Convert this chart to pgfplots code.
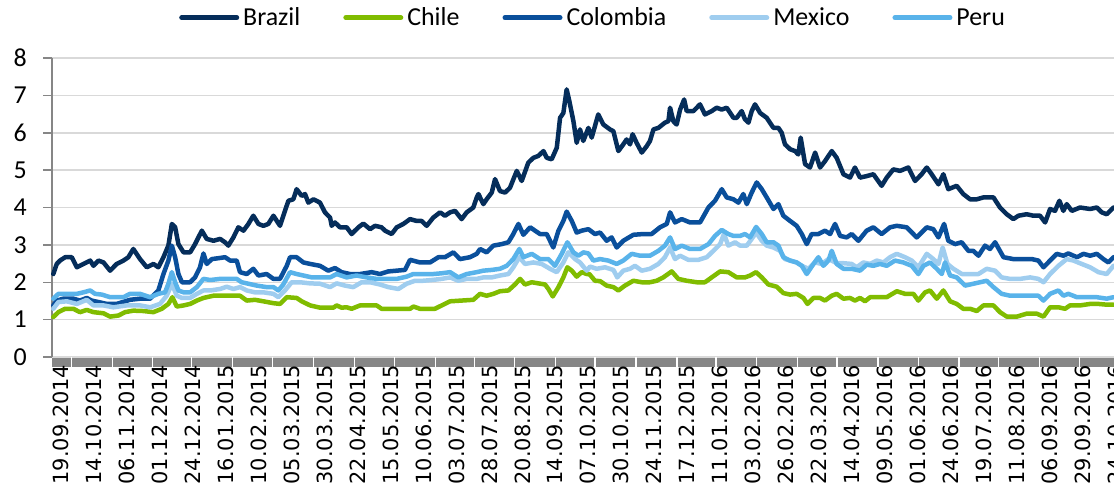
\documentclass[border=0pt]{standalone}
\usepackage{fontspec}
\setmainfont{Carlito}
\newfontfamily\datefont{DejaVu Sans}
\usepackage{pgfplots}
\pgfplotsset{compat=1.18}

\definecolor{brazil}{RGB}{5,45,90}
\definecolor{chile}{RGB}{128,188,0}
\definecolor{colombia}{RGB}{10,79,155}
\definecolor{mexico}{RGB}{159,205,239}
\definecolor{peru}{RGB}{89,179,234}
\definecolor{gridgray}{RGB}{217,217,217}
\definecolor{axgray}{RGB}{134,134,134}

\begin{document}
\begin{tikzpicture}
\begin{axis}[
    set layers,
    at={(52bp,142bp)}, anchor=south west,
    scale only axis, width=1062bp, height=299bp,
    xmin=0, xmax=581.3, ymin=0, ymax=8,
    clip=false,
    axis x line*=bottom, axis y line*=left,
    x axis line style={draw=none},
    y axis line style={draw=axgray, line width=1.5bp, -},
    ytick={0,1,...,8},
    ymajorgrids, grid style={draw=gridgray, line width=1.5bp},
    tick align=outside, major tick length=9bp, minor tick length=10bp,
    ytick style={draw=axgray, line width=1.5bp},
    xtick={0,18.04,36.08,54.12,72.16,90.2,108.24,126.28,144.32,162.36,180.4,
        198.44,216.48,234.52,252.56,270.6,288.64,306.68,324.72,342.76,360.8,
        378.84,396.88,414.92,432.96,451,469.04,487.08,505.12,523.16,541.2,559.24,577.28},
    xticklabels={19.09.2014,14.10.2014,06.11.2014,01.12.2014,24.12.2014,16.01.2015,
        10.02.2015,05.03.2015,30.03.2015,22.04.2015,15.05.2015,10.06.2015,03.07.2015,
        28.07.2015,20.08.2015,14.09.2015,07.10.2015,30.10.2015,24.11.2015,17.12.2015,
        11.01.2016,03.02.2016,26.02.2016,22.03.2016,14.04.2016,09.05.2016,01.06.2016,
        24.06.2016,19.07.2016,11.08.2016,06.09.2016,29.09.2016,24.10.2016},
    xtick style={draw=none},
    minor xtick={10.6,33.1,55.2,76.5,98.8,120.7,143.0,165.5,187.5,210.0,231.1,253.0,
        275.5,297.2,319.6,342.1,363.4,385.6,408.1,429.7,452.1,474.5,496.4,518.1,540.6,562.5},
    minor x tick style={draw=white, line width=1.2bp},
    xticklabel style={rotate=90, anchor=east, inner sep=0pt, yshift=-9bp, xshift=1.5bp,
        font=\datefont\fontsize{21}{24}\selectfont},
    yticklabel style={anchor=east, inner sep=0pt, xshift=-16bp,
        font=\fontsize{26}{30}\selectfont},
    /pgf/number format/assume math mode=true,
    every axis plot/.append style={line width=4.5bp, line join=round, line cap=round},
    legend columns=5,
    legend style={at={(0.5085,1.1348)}, anchor=center, draw=none, fill=none,
        font=\fontsize{26}{30}\selectfont, inner sep=0pt,
        nodes={inner sep=0pt},
        /tikz/every odd column/.append style={column sep=4bp},
        /tikz/every even column/.append style={column sep=43bp}},
    legend image code/.code={\draw[#1, line width=5bp, line cap=round] (0bp,0bp) -- (55bp,0bp);},
]
\begin{pgfonlayer}{axis background}
\fill[axgray] (rel axis cs:0,0) rectangle ([yshift=-10bp]rel axis cs:1,0);
\end{pgfonlayer}

\addplot[brazil] coordinates {
(0.7,2.22)(2.6,2.49)(4.4,2.58)(7.2,2.67)(10.8,2.67)(13.6,2.40)(17.2,2.49)(20.9,2.58)(22.7,2.44)(25.4,2.58)(28.2,2.53)(31.8,2.31)(35.4,2.49)(39.1,2.58)(41.8,2.67)(44.5,2.89)(48.2,2.62)(51.9,2.40)(55.5,2.49)(58.2,2.40)(61.0,2.67)(63.7,2.98)(65.6,3.56)(67.4,3.47)(69.2,3.02)(72.0,2.80)(75.6,2.80)(78.3,3.02)(82.0,3.38)(84.7,3.16)(88.4,3.11)(92.0,3.16)(94.7,3.07)(96.5,2.98)(99.3,3.20)(102.0,3.47)(104.8,3.38)(107.5,3.56)(110.2,3.78)(113.0,3.56)(115.7,3.51)(118.4,3.56)(121.2,3.78)(124.8,3.51)(127.5,3.91)(129.4,4.18)(132.1,4.22)(133.9,4.49)(136.7,4.31)(138.5,4.36)(140.3,4.13)(143.1,4.22)(146.7,4.13)(149.4,3.87)(152.2,3.73)(153.1,3.51)(154.9,3.60)(157.6,3.47)(161.3,3.47)(164.0,3.29)(167.7,3.47)(170.4,3.57)(174.1,3.42)(176.8,3.51)(180.4,3.47)(182.3,3.38)(185.9,3.29)(188.7,3.47)(192.3,3.56)(196.0,3.69)(199.6,3.64)(202.3,3.64)(205.1,3.51)(208.7,3.73)(212.4,3.87)(215.1,3.78)(217.9,3.87)(220.6,3.91)(224.2,3.69)(227.0,3.87)(230.6,4.00)(232.5,4.27)(233.4,4.36)(236.1,4.09)(237.9,4.22)(240.7,4.40)(242.5,4.76)(245.2,4.44)(248.0,4.40)(250.7,4.53)(254.4,4.98)(257.1,4.71)(260.7,5.20)(263.5,5.33)(266.2,5.38)(269.0,5.51)(270.8,5.33)(273.5,5.29)(276.3,5.60)(278.1,6.40)(279.9,6.53)(281.7,7.16)(283.2,6.84)(285.4,6.31)(287.2,5.73)(289.0,6.09)(290.8,5.78)(293.6,6.13)(295.4,5.87)(299.0,6.49)(301.8,6.22)(305.4,6.09)(307.3,6.04)(310.0,5.51)(312.7,5.69)(314.5,5.82)(316.4,5.69)(317.8,5.96)(320.0,5.73)(322.8,5.47)(325.5,5.64)(327.3,5.78)(329.2,6.09)(331.9,6.13)(335.5,6.27)(337.4,6.31)(338.3,6.67)(340.1,6.31)(341.9,6.22)(343.8,6.62)(346.0,6.89)(347.4,6.58)(351.1,6.58)(354.7,6.76)(357.4,6.49)(361.1,6.58)(363.8,6.67)(366.6,6.62)(369.3,6.67)(373.0,6.40)(374.8,6.40)(377.5,6.58)(379.3,6.36)(381.2,6.27)(383.0,6.58)(384.8,6.76)(387.6,6.53)(391.2,6.40)(394.9,6.13)(397.6,6.13)(399.4,6.00)(401.2,5.69)(404.0,5.56)(406.7,5.51)(408.5,5.42)(409.8,5.87)(412.2,5.16)(414.9,5.07)(417.7,5.47)(420.4,5.07)(423.1,5.24)(426.8,5.51)(429.5,5.33)(433.2,4.89)(436.8,4.80)(439.5,5.07)(442.3,4.80)(445.9,4.84)(449.6,4.89)(454.1,4.58)(456.9,4.80)(460.5,5.02)(464.2,4.98)(468.7,5.07)(472.4,4.71)(476.0,4.89)(478.8,5.07)(481.5,4.89)(485.2,4.62)(487.9,4.89)(490.6,4.49)(495.2,4.58)(498.8,4.36)(502.5,4.22)(506.2,4.22)(509.8,4.27)(515.3,4.27)(518.9,4.00)(522.6,3.82)(526.2,3.69)(529.0,3.78)(533.5,3.82)(537.2,3.78)(540.8,3.78)(543.6,3.60)(546.3,3.96)(549.0,3.91)(551.4,4.18)(553.6,3.91)(555.4,4.09)(558.2,3.91)(562.7,4.00)(568.2,3.96)(571.9,4.00)(574.6,3.87)(577.3,3.82)(581.0,4.00)
};
\addlegendentry{Brazil}

\addplot[chile] coordinates {
(0.7,1.07)(3.5,1.20)(7.2,1.29)(11.7,1.29)(15.3,1.20)(19.0,1.26)(22.7,1.20)(28.2,1.17)(31.8,1.08)(36.4,1.11)(40.0,1.20)(44.5,1.24)(50.0,1.23)(55.5,1.20)(60.1,1.29)(63.7,1.42)(65.9,1.60)(68.3,1.35)(72.0,1.38)(75.6,1.42)(79.3,1.51)(82.9,1.58)(88.4,1.64)(95.6,1.64)(102.9,1.64)(106.6,1.51)(111.1,1.53)(115.7,1.49)(121.2,1.44)(124.8,1.42)(128.5,1.60)(133.9,1.58)(136.7,1.49)(141.3,1.38)(146.7,1.32)(154.0,1.32)(155.8,1.38)(158.5,1.32)(161.3,1.33)(164.0,1.29)(168.6,1.38)(177.7,1.38)(180.4,1.29)(188.7,1.29)(196.0,1.29)(197.8,1.35)(201.4,1.29)(209.6,1.29)(213.3,1.38)(217.9,1.49)(224.2,1.51)(230.6,1.53)(234.3,1.69)(237.9,1.64)(241.6,1.69)(245.2,1.76)(249.8,1.78)(253.4,1.94)(256.2,2.09)(258.9,1.94)(262.6,2.00)(266.2,1.97)(269.9,1.94)(271.7,1.82)(274.1,1.62)(277.2,1.87)(279.9,2.13)(282.1,2.40)(284.5,2.31)(287.2,2.15)(289.9,2.27)(292.7,2.22)(294.1,2.22)(297.2,2.04)(300.0,2.03)(303.6,1.91)(307.3,1.87)(310.0,1.78)(313.6,1.91)(318.2,2.04)(322.8,2.00)(327.3,2.00)(331.0,2.04)(334.6,2.13)(339.2,2.29)(342.8,2.09)(347.4,2.04)(352.9,2.00)(357.4,2.00)(361.1,2.13)(365.7,2.29)(370.2,2.27)(374.8,2.13)(379.3,2.13)(382.1,2.18)(385.4,2.27)(388.5,2.13)(392.1,1.94)(396.7,1.88)(400.3,1.71)(404.0,1.67)(407.6,1.69)(411.3,1.58)(413.5,1.42)(416.8,1.58)(420.4,1.58)(423.1,1.51)(426.8,1.64)(429.5,1.69)(433.2,1.56)(436.8,1.58)(439.5,1.51)(442.3,1.58)(445.0,1.49)(447.8,1.60)(456.9,1.60)(462.4,1.76)(466.9,1.69)(471.5,1.69)(474.2,1.51)(477.9,1.73)(480.6,1.78)(484.3,1.56)(487.9,1.78)(491.6,1.49)(495.2,1.42)(498.8,1.29)(502.5,1.29)(506.2,1.23)(509.8,1.38)(515.3,1.38)(518.9,1.20)(522.6,1.08)(528.1,1.08)(533.5,1.16)(539.0,1.16)(542.7,1.08)(546.3,1.33)(550.9,1.33)(554.5,1.29)(557.2,1.38)(562.7,1.38)(568.2,1.42)(572.8,1.42)(577.3,1.40)(581.0,1.40)
};
\addlegendentry{Chile}

\addplot[colombia] coordinates {
(0.7,1.38)(2.6,1.51)(6.2,1.56)(11.7,1.56)(15.3,1.51)(19.0,1.58)(21.7,1.51)(25.4,1.47)(30.0,1.42)(35.4,1.42)(40.0,1.49)(42.7,1.53)(48.2,1.56)(53.7,1.56)(58.2,1.78)(61.0,2.22)(63.7,2.58)(65.6,2.98)(67.4,2.67)(69.2,2.22)(71.1,2.00)(75.6,2.00)(78.3,2.13)(81.0,2.40)(82.9,2.77)(84.7,2.49)(87.5,2.62)(92.0,2.65)(94.7,2.67)(97.5,2.58)(101.1,2.58)(102.9,2.27)(106.6,2.22)(110.2,2.36)(113.0,2.18)(117.5,2.22)(121.2,2.09)(124.8,2.09)(128.5,2.44)(130.3,2.67)(133.9,2.67)(137.6,2.53)(141.3,2.49)(146.7,2.44)(151.2,2.31)(154.9,2.38)(158.5,2.27)(163.1,2.22)(168.6,2.22)(175.0,2.27)(179.5,2.22)(184.1,2.29)(188.7,2.31)(193.2,2.33)(196.0,2.60)(201.4,2.53)(206.9,2.53)(211.5,2.67)(215.1,2.67)(219.7,2.80)(223.3,2.62)(228.8,2.67)(232.5,2.76)(234.3,2.89)(237.9,2.80)(241.6,2.98)(246.1,3.02)(249.8,3.07)(252.5,3.29)(255.3,3.56)(258.0,3.27)(261.7,3.47)(267.1,3.29)(270.8,3.29)(274.4,2.93)(277.2,3.38)(279.9,3.64)(281.7,3.89)(284.5,3.64)(287.2,3.33)(289.9,3.38)(293.6,3.42)(297.2,3.29)(300.0,3.33)(303.6,3.11)(306.3,3.20)(309.1,2.93)(312.7,3.11)(318.2,3.27)(323.7,3.29)(328.2,3.29)(332.8,3.47)(336.5,3.56)(338.3,3.87)(341.0,3.60)(344.7,3.69)(349.2,3.60)(354.7,3.60)(359.3,4.00)(362.9,4.18)(366.6,4.49)(369.3,4.27)(373.0,4.22)(375.7,4.13)(378.4,4.36)(380.3,4.09)(383.0,4.40)(385.7,4.67)(388.5,4.49)(391.2,4.27)(394.9,3.96)(397.6,4.09)(400.3,3.78)(404.0,3.64)(407.6,3.51)(410.4,3.29)(413.1,3.02)(415.8,3.29)(419.5,3.29)(423.1,3.38)(425.9,3.29)(428.6,3.56)(431.4,3.24)(435.0,3.20)(437.7,3.29)(441.4,3.11)(445.9,3.38)(449.6,3.47)(454.1,3.29)(458.7,3.47)(462.4,3.51)(467.8,3.47)(473.3,3.20)(478.8,3.47)(482.4,3.42)(485.2,3.20)(488.3,3.56)(490.6,3.11)(494.3,3.02)(497.9,3.07)(501.6,2.84)(504.3,2.84)(507.1,2.71)(510.7,2.98)(513.4,2.89)(516.2,3.07)(520.8,2.67)(526.2,2.62)(531.7,2.62)(536.3,2.62)(539.9,2.58)(542.7,2.40)(546.3,2.58)(550.0,2.76)(553.6,2.71)(556.3,2.77)(561.0,2.67)(564.6,2.76)(568.2,2.71)(571.9,2.76)(575.5,2.62)(578.2,2.53)(581.0,2.67)
};
\addlegendentry{Colombia}

\addplot[mexico] coordinates {
(0.7,1.29)(3.5,1.47)(8.1,1.49)(13.6,1.42)(19.0,1.53)(22.7,1.38)(28.2,1.38)(33.6,1.33)(40.9,1.38)(48.2,1.38)(53.7,1.33)(59.1,1.42)(62.8,1.64)(65.6,1.96)(68.3,1.64)(71.1,1.58)(75.6,1.58)(79.3,1.69)(82.9,1.78)(86.6,1.78)(92.0,1.82)(95.6,1.88)(99.3,1.82)(102.9,1.87)(106.6,1.78)(111.1,1.73)(115.7,1.73)(121.2,1.69)(123.9,1.60)(127.5,1.78)(131.2,2.00)(135.8,2.00)(141.3,1.97)(146.7,1.96)(152.2,1.87)(155.8,1.97)(160.4,1.91)(164.9,1.87)(169.5,2.00)(174.1,2.00)(179.5,1.94)(184.1,1.87)(189.6,1.82)(194.1,1.96)(198.7,2.04)(203.2,2.04)(207.8,2.06)(213.3,2.09)(217.9,2.13)(222.4,2.04)(227.0,2.09)(232.5,2.09)(236.1,2.13)(240.7,2.13)(245.2,2.18)(249.8,2.22)(252.5,2.40)(255.8,2.67)(258.9,2.49)(263.5,2.53)(268.0,2.49)(272.6,2.36)(276.3,2.27)(279.9,2.53)(282.6,2.80)(286.3,2.62)(289.0,2.53)(292.7,2.31)(294.5,2.42)(298.1,2.36)(302.7,2.40)(307.3,2.33)(309.4,2.13)(312.7,2.31)(316.4,2.36)(319.1,2.44)(322.8,2.31)(327.3,2.36)(331.9,2.49)(335.5,2.67)(338.3,2.93)(341.0,2.62)(343.8,2.71)(348.3,2.60)(353.8,2.60)(358.4,2.67)(362.0,2.84)(365.7,3.02)(367.8,3.29)(370.2,2.98)(373.9,3.07)(376.6,2.98)(380.3,2.98)(383.0,3.16)(385.4,3.33)(388.5,3.11)(391.2,2.98)(394.9,2.93)(398.5,2.84)(401.2,2.62)(404.0,2.58)(407.6,2.53)(410.4,2.44)(414.0,2.36)(417.7,2.53)(421.3,2.49)(425.0,2.62)(429.5,2.51)(433.2,2.51)(437.7,2.49)(440.4,2.40)(444.1,2.53)(447.8,2.49)(451.4,2.58)(455.1,2.53)(458.7,2.67)(462.4,2.76)(466.9,2.67)(470.6,2.58)(474.2,2.40)(478.8,2.76)(482.4,2.62)(485.2,2.49)(487.5,2.93)(490.1,2.49)(493.4,2.36)(498.0,2.22)(502.5,2.22)(507.1,2.22)(511.6,2.36)(516.2,2.31)(519.8,2.13)(524.4,2.09)(529.9,2.09)(535.4,2.13)(539.9,2.09)(542.7,2.00)(546.3,2.22)(550.9,2.44)(555.4,2.62)(559.1,2.58)(563.6,2.49)(568.2,2.40)(572.8,2.27)(577.3,2.22)(581.0,2.44)
};
\addlegendentry{Mexico}

\addplot[peru] coordinates {
(0.7,1.56)(3.5,1.69)(8.1,1.69)(13.6,1.69)(17.2,1.73)(20.9,1.78)(23.6,1.69)(27.3,1.67)(31.8,1.60)(39.1,1.60)(42.7,1.69)(48.2,1.69)(53.7,1.60)(58.2,1.69)(61.9,1.73)(63.7,1.96)(65.6,2.27)(67.4,2.00)(69.2,1.78)(72.0,1.73)(75.6,1.73)(79.3,1.87)(82.9,2.09)(86.6,2.06)(92.0,2.09)(97.5,2.09)(101.1,2.09)(103.8,2.00)(107.5,1.96)(112.1,1.91)(117.5,1.87)(121.2,1.87)(123.9,1.78)(126.6,1.94)(130.3,2.27)(133.9,2.22)(137.6,2.18)(142.2,2.13)(146.7,2.13)(152.2,2.13)(155.8,2.22)(161.3,2.13)(166.7,2.18)(172.2,2.13)(177.7,2.09)(183.2,2.09)(188.7,2.09)(194.1,2.15)(197.8,2.22)(203.2,2.22)(208.7,2.22)(213.3,2.24)(217.9,2.27)(222.4,2.13)(227.0,2.22)(232.5,2.27)(236.1,2.31)(240.7,2.33)(245.2,2.36)(248.9,2.44)(252.5,2.62)(255.8,2.89)(258.0,2.67)(262.6,2.76)(267.1,2.62)(271.7,2.62)(275.3,2.44)(279.0,2.76)(282.1,3.07)(285.4,2.80)(288.1,2.71)(290.9,2.80)(293.6,2.77)(296.3,2.58)(300.0,2.62)(304.5,2.58)(309.1,2.49)(312.7,2.58)(317.3,2.76)(321.9,2.71)(327.3,2.71)(331.9,2.84)(335.5,2.98)(338.3,3.20)(341.0,2.89)(344.7,2.98)(349.2,2.89)(354.7,2.89)(359.3,3.02)(362.9,3.24)(366.6,3.40)(370.2,3.29)(373.0,3.24)(376.6,3.24)(379.3,3.29)(382.1,3.20)(385.4,3.48)(388.5,3.29)(391.2,3.07)(394.9,3.07)(397.6,2.98)(400.3,2.67)(404.0,2.58)(407.6,2.53)(410.4,2.44)(413.1,2.22)(416.8,2.49)(419.5,2.67)(422.2,2.44)(425.0,2.58)(426.8,2.84)(429.5,2.49)(433.2,2.36)(437.7,2.36)(442.3,2.31)(445.9,2.47)(449.6,2.44)(453.2,2.49)(456.9,2.44)(461.4,2.58)(466.0,2.53)(470.6,2.44)(474.2,2.22)(477.0,2.44)(480.6,2.53)(484.3,2.36)(487.0,2.22)(488.8,2.53)(491.6,2.18)(495.2,2.13)(499.8,1.91)(504.3,1.96)(508.0,2.00)(511.6,2.04)(515.3,1.87)(519.8,1.69)(524.4,1.64)(529.9,1.64)(535.4,1.64)(539.9,1.64)(542.7,1.51)(546.3,1.69)(550.9,1.78)(553.6,1.64)(556.3,1.69)(561.0,1.60)(566.4,1.60)(571.9,1.60)(577.3,1.56)(581.0,1.60)
};
\addlegendentry{Peru}
\end{axis}
\pgfresetboundingbox
\useasboundingbox (0,0) rectangle (1114bp,499bp);
\end{tikzpicture}
\end{document}
